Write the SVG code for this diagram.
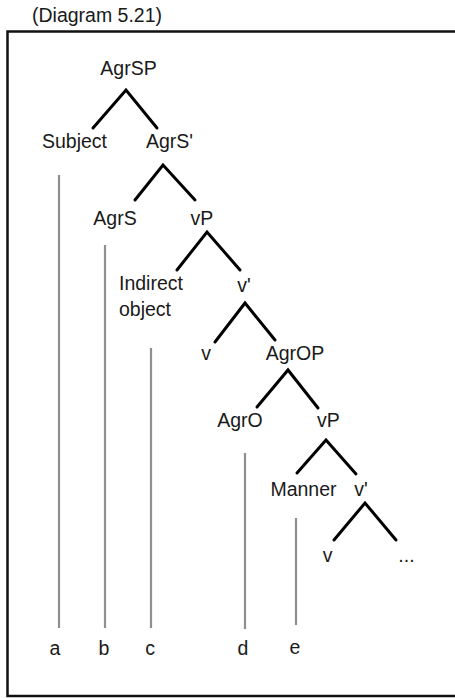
<svg xmlns="http://www.w3.org/2000/svg" width="455" height="698" viewBox="0 0 455 698">
<style>
text{font-family:"Liberation Sans",Arial,sans-serif;font-size:19.5px;fill:#1a1a1a}
.b{fill:none;stroke:#000;stroke-width:3;stroke-linecap:round;stroke-linejoin:miter}
.g{stroke:#8f8f8f;stroke-width:2.2}
.f{fill:none;stroke:#111;stroke-width:2.5}
</style>
<rect width="455" height="698" fill="#fff"/>
<text x="32" y="22" font-size="18.5">(Diagram 5.21)</text>
<path class="f" d="M470,31.5 H7.5 V696 H470"/>
<g id="connectors">
<polyline class="b" points="93,128 126,90 157,128"/>
<polyline class="b" points="135,200 163,165 195,200"/>
<polyline class="b" points="177,270 207,232 240,270"/>
<polyline class="b" points="215,342 245,303 275,340"/>
<polyline class="b" points="257,407 288,370 318,408"/>
<polyline class="b" points="297,473 326,440 356,474"/>
<polyline class="b" points="334,540 365,503 396,540"/>
<line class="g" x1="59" y1="175" x2="59" y2="628"/>
<line class="g" x1="105" y1="245" x2="105" y2="628"/>
<line class="g" x1="151" y1="348" x2="151" y2="628"/>
<line class="g" x1="245" y1="453" x2="245" y2="629"/>
<line class="g" x1="296" y1="518" x2="296" y2="625"/>
</g>
<g id="AgrSP"><text x="128.5" y="75" text-anchor="middle">AgrSP</text></g>
<g id="Subject"><text x="74.5" y="148" text-anchor="middle">Subject</text></g>
<g id="AgrS1"><text x="169.5" y="148" text-anchor="middle">AgrS'</text></g>
<g id="AgrS"><text x="115" y="225" text-anchor="middle">AgrS</text></g>
<g id="vP1"><text x="202" y="225" text-anchor="middle">vP</text></g>
<g id="IndirectObject"><text x="119" y="290">Indirect</text><text x="119" y="316">object</text></g>
<g id="v1bar"><text x="244" y="292" text-anchor="middle">v'</text></g>
<g id="v1"><text x="206" y="360" text-anchor="middle">v</text></g>
<g id="AgrOP"><text x="295" y="360" text-anchor="middle">AgrOP</text></g>
<g id="AgrO"><text x="240" y="427" text-anchor="middle">AgrO</text></g>
<g id="vP2"><text x="328.5" y="427" text-anchor="middle">vP</text></g>
<g id="Manner"><text x="303.5" y="496" text-anchor="middle">Manner</text></g>
<g id="v2bar"><text x="361" y="496" text-anchor="middle">v'</text></g>
<g id="v2"><text x="327.5" y="562" text-anchor="middle">v</text></g>
<g id="ellipsis"><text x="406.5" y="562" text-anchor="middle" font-size="16" fill="#555">...</text></g>
<g id="a"><text x="55" y="655" text-anchor="middle">a</text></g>
<g id="b"><text x="104" y="655" text-anchor="middle">b</text></g>
<g id="c"><text x="150" y="655" text-anchor="middle">c</text></g>
<g id="d"><text x="243" y="655" text-anchor="middle">d</text></g>
<g id="e"><text x="295" y="654" text-anchor="middle">e</text></g>
</svg>
